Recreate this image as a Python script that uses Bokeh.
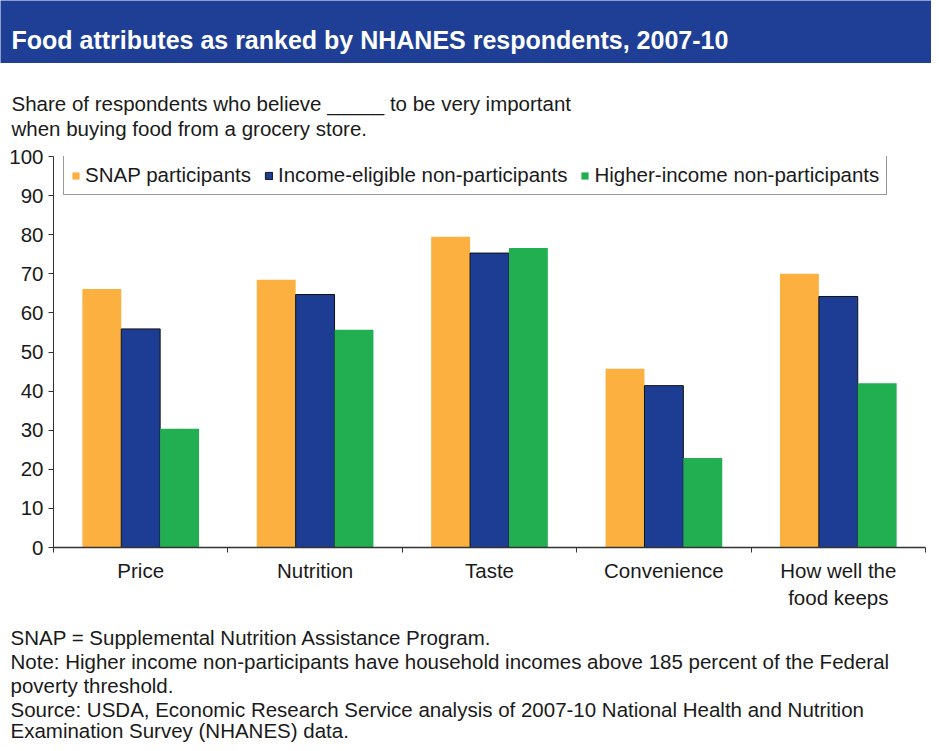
from bokeh.plotting import figure
from bokeh.models import Range1d, FixedTicker, Label, Legend, LegendItem
from bokeh.layouts import column
from bokeh.embed import file_html
from bokeh.resources import INLINE
import numpy as np

# ---- data ----
categories = ["Price", "Nutrition", "Taste", "Convenience", "How well the\nfood keeps"]
series_names = ["SNAP participants", "Income-eligible non-participants", "Higher-income non-participants"]
snap = [66.1, 68.5, 79.5, 45.7, 70.0]
eligible = [55.9, 64.7, 75.3, 41.4, 64.2]
higher = [30.4, 55.7, 76.6, 22.9, 42.0]
y_ticks = [0, 10, 20, 30, 40, 50, 60, 70, 80, 90, 100]

title_text = "Food attributes as ranked by NHANES respondents, 2007-10"
subtitle_lines = ["Share of respondents who believe _____ to be very important",
                  "when buying food from a grocery store."]
note_lines = ["SNAP = Supplemental Nutrition Assistance Program.",
              "Note: Higher income non-participants have household incomes above 185 percent of the Federal",
              "poverty threshold.",
              "Source: USDA, Economic Research Service analysis of 2007-10 National Health and Nutrition",
              "Examination Survey (NHANES) data."]

# ---- style ----
FONT = "Liberation Sans"
FS = "20.5px"
BANNER = "#1E3F95"
COLORS = ["#FBB040", "#1D3C93", "#21AF51"]
LINES = [None, "#111111", None]
TXT = "#1a1a1a"
W = 931
BAR_W = 0.223
OFFSETS = [-0.223, 0.0, 0.223]


def text_fig(h, bg="white"):
    f = figure(width=W, height=h, x_range=Range1d(0, 1), y_range=Range1d(0, 1),
               x_axis_type=None, y_axis_type=None, toolbar_location=None,
               output_backend="svg", min_border=0, min_border_left=0, min_border_right=0,
               min_border_top=0, min_border_bottom=0, background_fill_color=bg,
               border_fill_color=bg, outline_line_color=None, frame_align=False)
    return f


def add_text(f, x, y, t, size=FS, color=TXT, style="normal"):
    f.add_layout(Label(x=x, y=y, x_units="screen", y_units="screen", text=t,
                       text_font=FONT, text_font_size=size, text_font_style=style,
                       text_color=color, text_baseline="alphabetic"))


# ---- banner (0-63) ----
banner = text_fig(63, BANNER)
add_text(banner, 11, 24, title_text, size="25px", color="white", style="bold")

# ---- subtitle (63-140) ----
sub = text_fig(77)
for t, yy in zip(subtitle_lines, [37, 12]):
    add_text(sub, 11, yy, t)

# ---- main chart (140-615) ----
p = figure(width=W, height=475, x_range=Range1d(0, len(categories)), y_range=Range1d(0, 100),
           toolbar_location=None, output_backend="svg",
           min_border_left=53, min_border_right=6, min_border_top=16, min_border_bottom=68,
           outline_line_color=None, background_fill_color="white", border_fill_color="white",
           frame_align=False)
p.grid.visible = False

x = np.arange(len(categories)) + 0.5
items = []
for vals, off, col, lc, name in zip([snap, eligible, higher], OFFSETS, COLORS, LINES, series_names):
    r = p.vbar(x=x + off, top=vals, width=BAR_W, bottom=0, fill_color=col,
               line_color=lc, line_width=1)
    items.append(LegendItem(label=name, renderers=[r]))

legend = Legend(items=items, orientation="horizontal", location=(10, 352),
                label_text_font=FONT, label_text_font_size=FS, label_text_color=TXT,
                glyph_width=9, glyph_height=9, label_standoff=5, spacing=13, padding=7,
                border_line_color="#333333", border_line_width=1, background_fill_alpha=1,
                margin=0)
p.add_layout(legend)

# y axis
ya = p.yaxis[0]
ya.ticker = FixedTicker(ticks=y_ticks, minor_ticks=[])
ya.major_label_text_font = FONT
ya.major_label_text_font_size = FS
ya.major_label_text_color = TXT
ya.major_tick_out = 5
ya.major_tick_in = 0
ya.minor_tick_out = 0
ya.axis_line_color = "#333333"
ya.major_tick_line_color = "#333333"
ya.major_label_standoff = 5

# x axis
xa = p.xaxis[0]
xa.ticker = FixedTicker(ticks=list(x), minor_ticks=list(range(len(categories) + 1)))
xa.major_label_overrides = {float(v): c for v, c in zip(x, categories)}
xa.major_label_text_font = FONT
xa.major_label_text_font_size = FS
xa.major_label_text_color = TXT
xa.major_tick_out = 0
xa.major_tick_in = 0
xa.minor_tick_out = 5
xa.minor_tick_in = 0
xa.minor_tick_line_color = "#333333"
xa.axis_line_color = "#333333"
xa.axis_line_width = 1.5
xa.major_label_standoff = 6

# ---- notes (615-743) ----
notes = text_fig(128)
for t, yy in zip(note_lines, [106, 82, 58, 34, 13]):
    add_text(notes, 10, yy, t)

layout = column(banner, sub, p, notes, spacing=0)
open("out.html", "w").write(file_html(layout, INLINE))
